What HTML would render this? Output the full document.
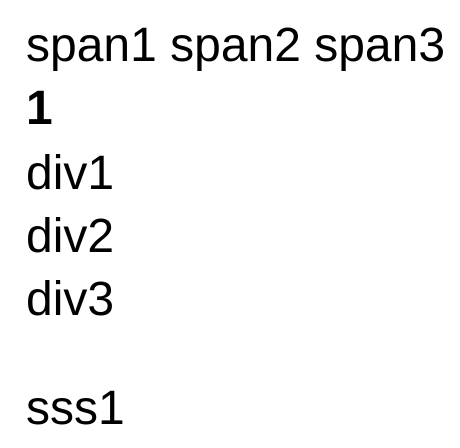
<!DOCTYPE html>
<html><head><meta charset="utf-8"><style>
html,body{margin:0;padding:0;background:#fff;width:460px;height:448px;overflow:hidden}
div.l{position:absolute;left:26px;font-family:"Liberation Sans",sans-serif;font-size:48px;line-height:63px;color:#000;white-space:nowrap}
</style></head><body>
<div class="l" style="top:14px">span1 span2 span3</div>
<div class="l" style="top:77px;font-weight:bold">1</div>
<div class="l" style="top:142px">div1</div>
<div class="l" style="top:205px">div2</div>
<div class="l" style="top:268px">div3</div>
<div class="l" style="top:377px">sss1</div>
</body></html>
